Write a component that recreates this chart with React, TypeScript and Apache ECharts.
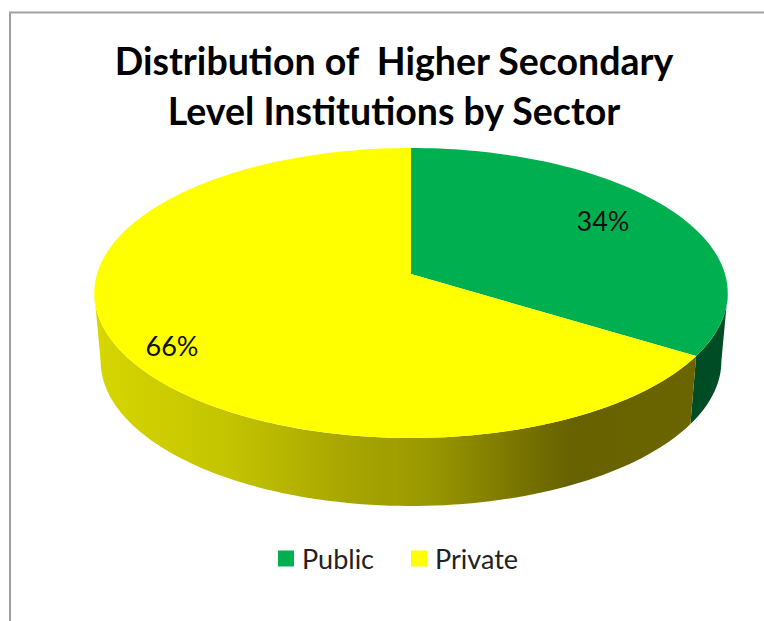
import React, { useEffect, useRef } from "react";
import * as echarts from "echarts";

const TITLE_LINES = ["Distribution of  Higher Secondary", "Level Institutions by Sector"];
const SECTORS = ["Public", "Private"];
const SHARES = [34, 66];
const TOP_COLORS = ["#00b050", "#ffff00"];
const LABEL_POS = [[603, 220], [172, 345]];

const W = 764, H = 621;
const APEX_X = 411, APEX_Y = 274, A = 314, B = 142.5, K = 0.131;
const DEPTH = 68, BOTTOM_SCALE = 0.98;
const SIL = (Math.acos(-K) * 180) / Math.PI; // silhouette angle of the disc

const TOTAL = SHARES.reduce((a, b) => a + b, 0);

function rim(deg: number): [number, number] {
  const t = (deg * Math.PI) / 180;
  const u = Math.sin(t), v = -Math.cos(t);
  const w = 1 - K * v;
  return [APEX_X + (A * u) / w, APEX_Y + (B * v) / w];
}
function lower(p: [number, number]): [number, number] {
  return [APEX_X + (p[0] - APEX_X) * BOTTOM_SCALE, p[1] + DEPTH];
}
function arcPts(a: number, b: number): [number, number][] {
  const n = Math.max(2, Math.ceil(Math.abs(b - a) / 1.5));
  const pts: [number, number][] = [];
  for (let i = 0; i <= n; i++) pts.push(rim(a + ((b - a) * i) / n));
  return pts;
}

const sideFill = (i: number): any =>
  i === 0
    ? "#004d25"
    : new echarts.graphic.LinearGradient(
        96, 0, 690, 0,
        [
          { offset: 0, color: "#d6d600" },
          { offset: 0.22, color: "#c4c400" },
          { offset: 0.42, color: "#a8a600" },
          { offset: 0.56, color: "#9a9800" },
          { offset: 0.74, color: "#736e00" },
          { offset: 0.8, color: "#676200" },
          { offset: 1, color: "#6a6500" },
        ],
        true
      );

function makeSeries(i: number): any {
  const start = (SHARES.slice(0, i).reduce((a, b) => a + b, 0) / TOTAL) * 360;
  const end = start + (SHARES[i] / TOTAL) * 360;
  return {
    type: "custom",
    name: SECTORS[i],
    coordinateSystem: "none",
    silent: true,
    itemStyle: { color: TOP_COLORS[i] },
    data: [[SHARES[i]]],
    renderItem: () => {
      const children: any[] = [];
      const a = Math.max(start, SIL), b = Math.min(end, 360 - SIL);
      if (b > a) {
        const upper = arcPts(a, b);
        children.push({
          type: "polygon",
          shape: { points: [...upper, ...upper.map(lower).reverse()] },
          style: { fill: sideFill(i) },
        });
      }
      children.push({
        type: "polygon",
        shape: { points: [[APEX_X, APEX_Y], ...arcPts(start, end)] },
        style: { fill: TOP_COLORS[i] },
      });
      children.push({
        type: "text",
        x: LABEL_POS[i][0],
        y: LABEL_POS[i][1],
        style: {
          text: `${SHARES[i]}%`,
          fill: "#111111",
          font: '27px Lato',
          textAlign: "center",
          textVerticalAlign: "middle",
        },
      });
      return { type: "group", children };
    },
  };
}

export default function App() {
  const ref = useRef<HTMLDivElement>(null);
  useEffect(() => {
    const chart = echarts.init(ref.current!, undefined, { renderer: "svg" });
    chart.setOption({
      animation: false,
      backgroundColor: "#ffffff",
      graphic: [
        {
          type: "polyline",
          silent: true,
          shape: { points: [[10, H + 4], [10, 12.5], [W + 4, 12.5]] },
          style: { stroke: "#a0a0a0", lineWidth: 2, fill: "none" },
        },
        ...TITLE_LINES.map((line, i) => ({
          type: "text",
          silent: true,
          x: 394,
          y: 60 + i * 50,
          style: {
            text: line,
            fill: "#000000",
            font: 'bold 37.5px Lato',
            textAlign: "center",
            textVerticalAlign: "middle",
          },
        })),
      ],
      legend: {
        data: SECTORS,
        left: 273,
        top: 540,
        itemWidth: 16,
        itemHeight: 16,
        itemGap: 37,
        icon: "rect",
        textStyle: { fontFamily: "Lato", fontSize: 27, color: "#222222", padding: [0, 0, 0, 3] },
        selectedMode: false,
      },
      series: SECTORS.map((_, i) => makeSeries(i)),
    });
    return () => chart.dispose();
  }, []);
  return (
    <div
      ref={ref}
      style={{ position: "fixed", left: 0, top: 0, width: W, height: H }}
    />
  );
}
